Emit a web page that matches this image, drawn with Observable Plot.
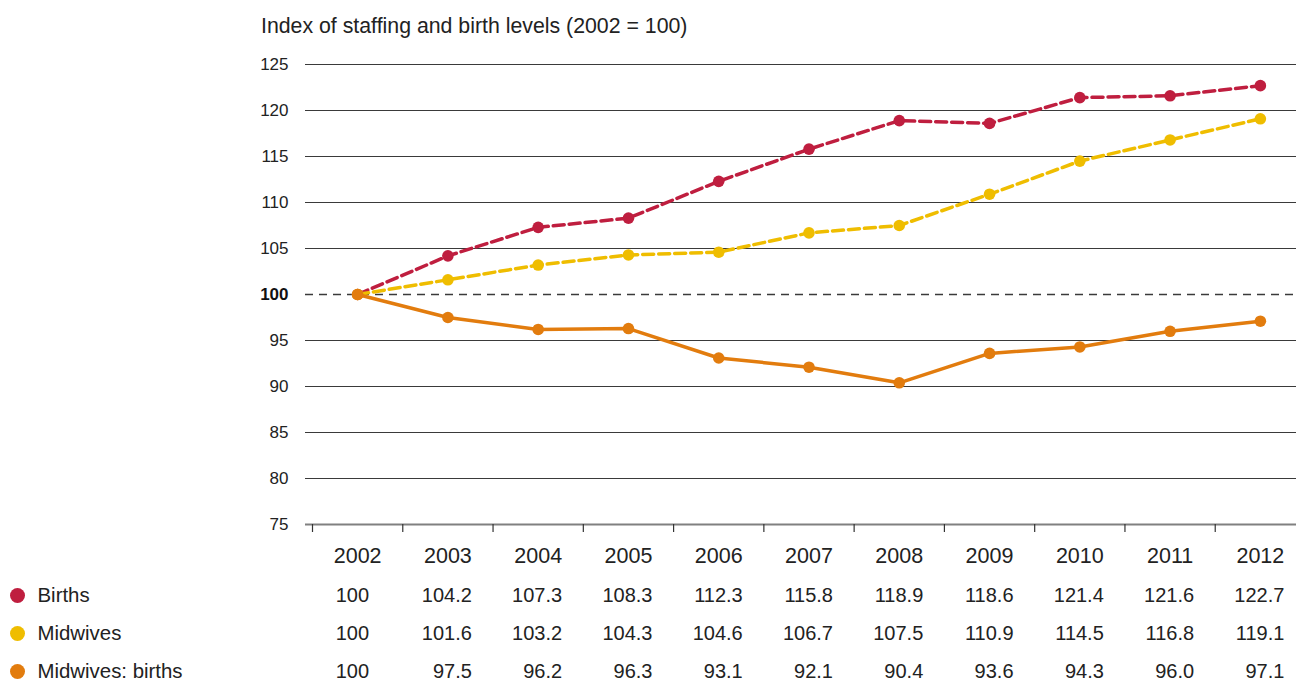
<!DOCTYPE html>
<html>
<head>
<meta charset="utf-8">
<script src="https://cdn.jsdelivr.net/npm/d3@7"></script>
<script src="https://cdn.jsdelivr.net/npm/@observablehq/plot@0.6"></script>
<style>
  html, body { margin: 0; padding: 0; background: #fff; overflow: hidden; }
  body { font-family: "Liberation Sans", Arial, sans-serif; color: #222; width: 1296px; height: 684px; }
  #title { height: 52px; line-height: 52px; padding-left: 261px; font-size: 21.3px; color: #222; white-space: nowrap; }
  svg { display: block; }
</style>
</head>
<body>
<div id="title">Index of staffing and birth levels (2002 = 100)</div>
<div id="chart"></div>
<div id="table"></div>
<script>
// ---- data ----
const years = [2002, 2003, 2004, 2005, 2006, 2007, 2008, 2009, 2010, 2011, 2012];
const births = [100, 104.2, 107.3, 108.3, 112.3, 115.8, 118.9, 118.6, 121.4, 121.6, 122.7];
const midwives = [100, 101.6, 103.2, 104.3, 104.6, 106.7, 107.5, 110.9, 114.5, 116.8, 119.1];
const midwivesPerBirths = [100, 97.5, 96.2, 96.3, 93.1, 92.1, 90.4, 93.6, 94.3, 96.0, 97.1];
const seriesNames = ["Births", "Midwives", "Midwives: births"];
const seriesColors = ["#bf1e3f", "#efbd00", "#e27c0e"];
const yTicks = [75, 80, 85, 90, 95, 100, 105, 110, 115, 120, 125];
const baseline = 100;

// ---- build tables ----
const seriesValues = [births, midwives, midwivesPerBirths];
const rows = [];
seriesNames.forEach((s, i) => years.forEach((yr, j) => rows.push({series: s, year: yr, value: seriesValues[i][j]})));
const colorOf = Object.fromEntries(seriesNames.map((s, i) => [s, seriesColors[i]]));
const fmt = v => (v === baseline ? String(v) : v.toFixed(1));
const boundaries = years.map(y => y - 0.5);
const xDomain = [years[0] - 0.5, years[years.length - 1] + 0.5];
const xRange = [312, 1305];

const bySeries = s => rows.filter(r => r.series === s);

// ---- main chart ----
const chart = Plot.plot({
  width: 1296,
  height: 524,
  marginLeft: 305,
  marginRight: 0,
  marginTop: 12,
  marginBottom: 52,
  style: {fontFamily: '"Liberation Sans", Arial, sans-serif', color: "#222", background: "#fff"},
  x: {domain: xDomain, range: xRange, label: null},
  y: {domain: [75, 125], label: null},
  marks: [
    Plot.ruleY(yTicks.filter(t => t !== baseline && t !== 75), {stroke: "#3a3a3a", strokeWidth: 1.2}),
    Plot.ruleY([baseline], {stroke: "#3a3a3a", strokeWidth: 1.5, strokeDasharray: "8,6"}),
    Plot.ruleY([75], {stroke: "#808080", strokeWidth: 2}),
    Plot.axisX(boundaries, {tickSize: 8, tickFormat: () => "", stroke: "#333", strokeWidth: 1.2}),
    Plot.axisX(years, {tickSize: 0, tickPadding: 23, tickFormat: d => String(d), fontSize: 21.5, fill: "#222"}),
    Plot.axisY(yTicks.filter(t => t !== baseline), {tickSize: 0, tickPadding: 17, fontSize: 17, fill: "#222"}),
    Plot.axisY([baseline], {tickSize: 0, tickPadding: 17, fontSize: 17, fontWeight: "bold", fill: "#111"}),
    Plot.line(bySeries("Births"), {x: "year", y: "value", stroke: colorOf["Births"], strokeWidth: 3.5, strokeDasharray: "11,5"}),
    Plot.dot(bySeries("Births"), {x: "year", y: "value", fill: colorOf["Births"], r: 5.8}),
    Plot.line(bySeries("Midwives"), {x: "year", y: "value", stroke: colorOf["Midwives"], strokeWidth: 3.5, strokeDasharray: "11,5"}),
    Plot.dot(bySeries("Midwives"), {x: "year", y: "value", fill: colorOf["Midwives"], r: 5.8}),
    Plot.line(bySeries("Midwives: births"), {x: "year", y: "value", stroke: colorOf["Midwives: births"], strokeWidth: 3.5}),
    Plot.dot(bySeries("Midwives: births"), {x: "year", y: "value", fill: colorOf["Midwives: births"], r: 5.8})
  ]
});
document.getElementById("chart").appendChild(chart);

// ---- data table / legend ----
const table = Plot.plot({
  width: 1296,
  height: 108,
  marginLeft: 0,
  marginRight: 0,
  marginTop: 0,
  marginBottom: 0,
  style: {fontFamily: '"Liberation Sans", Arial, sans-serif', color: "#222", background: "#fff"},
  x: {domain: xDomain, range: xRange, axis: null},
  y: {type: "point", domain: seriesNames, range: [18, 95], padding: 0, axis: null},
  marks: [
    Plot.dot(seriesNames, {y: d => d, frameAnchor: "left", dx: 17, r: 7.5, fill: d => colorOf[d]}),
    Plot.text(seriesNames, {y: d => d, text: d => d, frameAnchor: "left", dx: 37, textAnchor: "start", fontSize: 20.4, fill: "#222"}),
    Plot.text(rows.filter(r => r.value !== baseline), {x: "year", y: "series", text: d => fmt(d.value), textAnchor: "end", dx: 24, fontSize: 20, fill: "#222"}),
    Plot.text(rows.filter(r => r.value === baseline), {x: "year", y: "series", text: d => fmt(d.value), textAnchor: "start", dx: -22, fontSize: 20, fill: "#222"})
  ]
});
document.getElementById("table").appendChild(table);
</script>
</body>
</html>
